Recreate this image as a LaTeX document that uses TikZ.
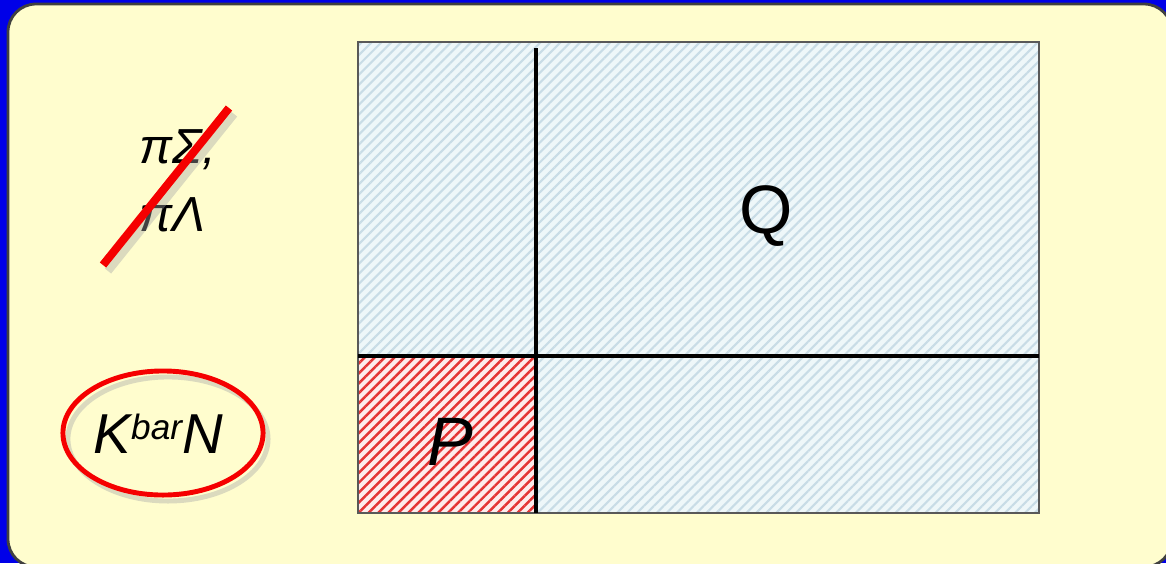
\documentclass[tikz,border=0pt]{standalone}
\usepackage{fontspec}
\setmainfont{Liberation Sans}
\usetikzlibrary{patterns.meta,shapes.geometric}
\definecolor{bgblue}{RGB}{0,0,232}
\definecolor{panelyellow}{RGB}{255,253,206}
\definecolor{cellblue}{RGB}{238,247,249}
\definecolor{hatchblue}{RGB}{200,220,230}
\definecolor{cellred}{RGB}{253,236,236}
\definecolor{hatchred}{RGB}{228,52,52}
\definecolor{markred}{RGB}{245,0,0}
\tikzset{
  bluecell/.style={fill=cellblue,
    postaction={pattern={Lines[angle=45,distance=2pt,line width=.6pt]},pattern color=hatchblue}},
  redcell/.style={fill=cellred,
    postaction={pattern={Lines[angle=45,distance=2pt,line width=.7pt]},pattern color=hatchred}},
  shade/.style={black!35,opacity=.4},
  label/.style={inner sep=0pt,anchor=base west,font=\itshape\fontsize{14}{16}\selectfont},
  big/.style={inner sep=0pt,font=\fontsize{19.5}{21}\selectfont},
}
\begin{document}
\begin{tikzpicture}[x=0.01cm,y=-0.01cm]
  \useasboundingbox (0,0) rectangle (1166,563);
  % 背景とパネル
  \fill[bgblue] (0,0) rectangle (1166,563);
  \draw[black!75,line width=.8pt,fill=panelyellow,rounded corners=0.28cm] (8,4) rectangle (1172,567);
  % 格子: 左下がP, その他はQ
  \def\xa{358} \def\xb{536} \def\xc{1039}
  \def\ya{42} \def\yb{356} \def\yc{513}
  \fill[bluecell] (\xa,\ya) rectangle (\xc,\yc);
  \fill[redcell] (\xa,\yb) rectangle (\xb,\yc);
  \draw[black!65,line width=.5pt] (\xa,\ya) rectangle (\xc,\yc);
  \draw[black,line width=.9pt] (\xb,48) -- (\xb,\yc);
  \draw[black,line width=.9pt] (\xa,\yb) -- (\xc,\yb);
  \node[big] (q) at (766,216) {Q};
  \node[big,font=\itshape\fontsize{19.5}{21}\selectfont] (p) at (450,442) {P};
  % πΣ, πΛ (取り消し線つき)
  \node[label] (pisig) at (139,163) {πΣ,};
  \node[label] (pilam) at (139,231) {πΛ};
  \coordinate (cutlo) at (103,265);
  \coordinate (cuthi) at (229,108);
  \draw[shade,line width=2.3pt] ([shift={(5,6)}]cutlo) -- ([shift={(5,6)}]cuthi);
  \draw[markred,line width=2.3pt] (cutlo) -- (cuthi);
  % KbarN を赤い楕円で囲む
  \node[label,font=\itshape\fontsize{16}{18}\selectfont] (kbn) at (93,453)
    {K\raisebox{3.8pt}{\fontsize{10}{10}\selectfont bar}N};
  \node[ellipse,shade,draw,line width=1.4pt,minimum width=2.0cm,minimum height=1.24cm] (ringsh) at (168,439) {};
  \node[ellipse,draw=markred,line width=1.4pt,minimum width=2.0cm,minimum height=1.24cm] (ring) at (163,433) {};
\end{tikzpicture}
\end{document}
